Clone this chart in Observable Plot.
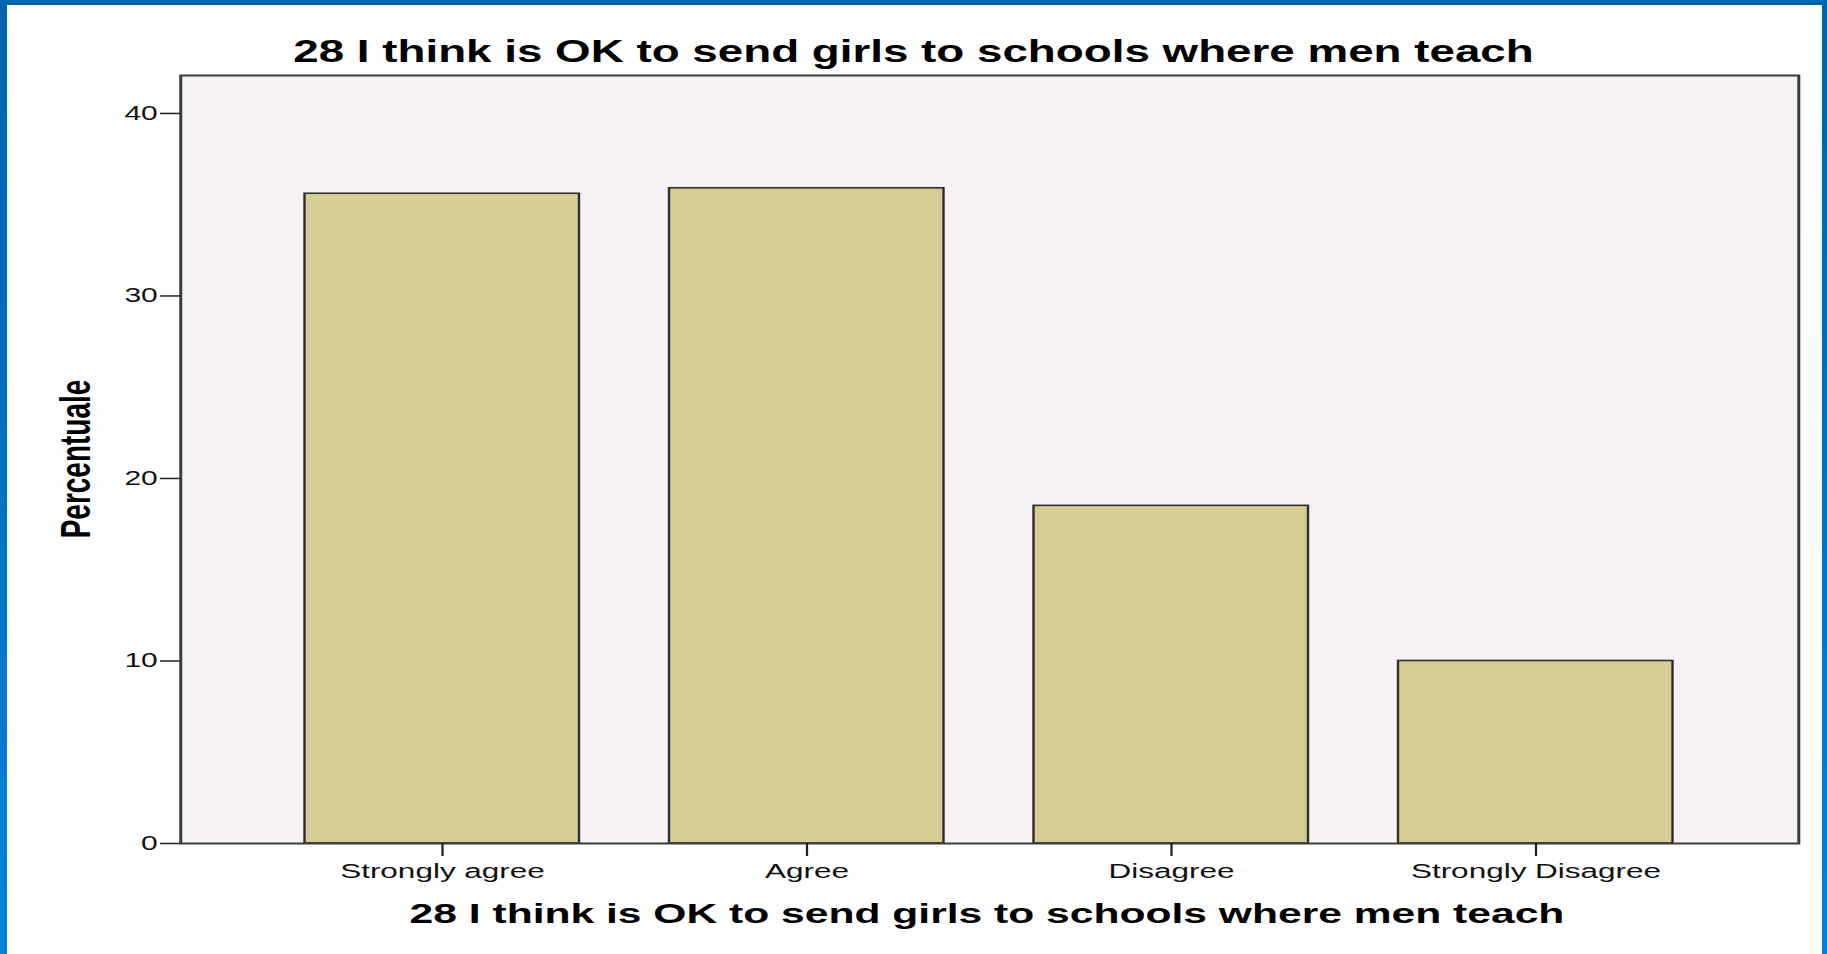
<!DOCTYPE html>
<html><head><meta charset="utf-8">
<script src="https://cdn.jsdelivr.net/npm/d3@7"></script>
<script src="https://cdn.jsdelivr.net/npm/@observablehq/plot@0.6"></script>
<style>
html,body{margin:0;padding:0;background:#fff;width:1827px;height:954px;overflow:hidden;}
#chart{position:absolute;left:0;top:0;width:1827px;height:954px;}
.edge{position:absolute;z-index:2}
</style></head><body>
<div id="chart"></div>
<div class="edge" style="left:0;top:0;width:7px;height:954px;background:linear-gradient(#0063ae,#0082dc)"></div>
<div class="edge" style="left:1822px;top:0;width:5px;height:954px;background:linear-gradient(#0063ae,#0082dc)"></div>
<div class="edge" style="left:0;top:0;width:1827px;height:5px;background:#0066b0"></div>
<script>
const categories = ["Strongly agree", "Agree", "Disagree", "Strongly Disagree"];
const percentages = [35.6, 35.9, 18.5, 10.0];
const yTicks = [0, 10, 20, 30, 40];
const chartTitle = "28 I think is OK to send girls to schools where men teach";
const xTitle = "28 I think is OK to send girls to schools where men teach";
const yTitle = "Percentuale";

const data = categories.map((c, i) => ({category: c, value: percentages[i]}));

// The reference image is horizontally stretched (x 1.5); draw in a narrower
// coordinate system and stretch the SVG via its viewBox.
const STRETCH = 1.5;
const W = 1827 / STRETCH;
const H = 954;

const plot = Plot.plot({
  width: W,
  height: H,
  marginLeft: 120,
  marginRight: 19.3,
  marginTop: 75,
  marginBottom: 111,
  style: {fontFamily: "'Liberation Sans', Arial, sans-serif", background: "transparent", color: "#111", overflow: "visible"},
  x: {domain: categories, paddingInner: 0.2455, paddingOuter: 0.342, align: 0.5},
  y: {domain: [0, 42.08]},
  marks: [
    Plot.frame({fill: "#f5f1f5", stroke: null}),
    Plot.barY(data, {x: "category", y: "value", fill: "#d6cd94", stroke: "#2e2e2e", strokeWidth: 1.6}),
    Plot.frame({stroke: "#3c3c3c", strokeWidth: 2}),
    Plot.axisY({ticks: yTicks, tickSize: 13.3, tickPadding: 2, fontSize: 20, label: null, stroke: "#222", strokeWidth: 1.5}),
    Plot.axisX({tickSize: 13, tickPadding: 7, fontSize: 21, label: null, stroke: "#222", strokeWidth: 1.5})
  ]
});

plot.setAttribute("width", 1827);
plot.setAttribute("height", 954);
plot.setAttribute("preserveAspectRatio", "none");
plot.style.maxWidth = "none";
plot.style.width = "1827px";
plot.style.height = "954px";
document.getElementById("chart").appendChild(plot);

const svg = d3.select(plot);
svg.append("text")
  .attr("x", W / 2).attr("y", 61.7)
  .attr("text-anchor", "middle")
  .attr("font-weight", "bold").attr("font-size", 30.5)
  .attr("fill", "#000")
  .text(chartTitle);
svg.append("text")
  .attr("x", 658).attr("y", 923)
  .attr("text-anchor", "middle")
  .attr("font-weight", "bold").attr("font-size", 28.4)
  .attr("fill", "#000")
  .text(xTitle);
svg.append("text")
  .attr("transform", "translate(60,459) rotate(-90)")
  .attr("text-anchor", "middle")
  .attr("font-weight", "bold").attr("font-size", 28)
  .attr("fill", "#000")
  .text(yTitle);
</script>
</body></html>
